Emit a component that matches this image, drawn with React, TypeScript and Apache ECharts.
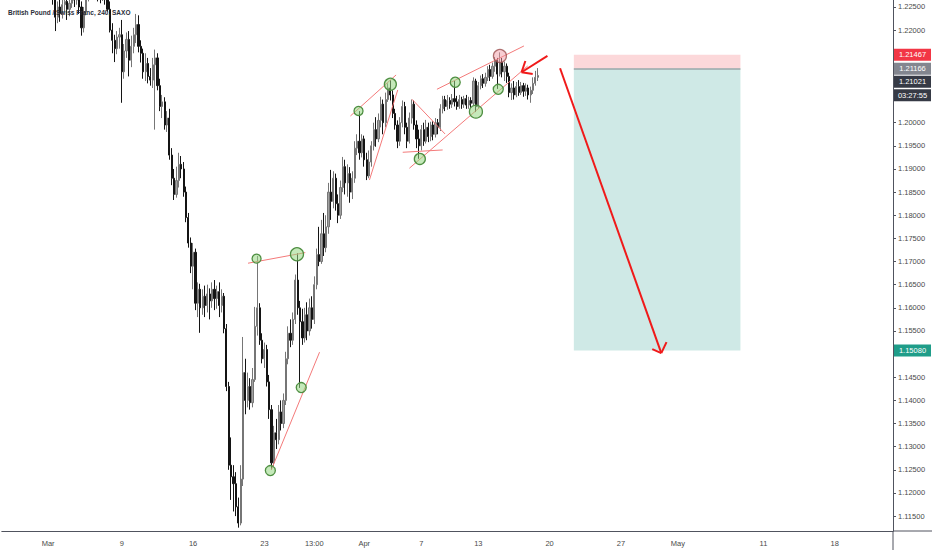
import { useEffect, useRef } from "react";
import * as echarts from "echarts";

const TITLE = "British Pound / Swiss Franc, 240, SAXO";
const TOTAL_BARS = 375;
const TICK_INDEX = [19, 50, 80, 110, 131, 152, 176, 200, 230, 260, 284, 320, 350];
const TICK_TEXT = ["Mar", "9", "16", "23", "13:00", "Apr", "7", "13", "20", "27", "May", "11", "18"];
const PRICE_TICKS = [
  1.115, 1.12, 1.125, 1.13, 1.135, 1.14, 1.145, 1.15, 1.155, 1.16, 1.165, 1.17,
  1.175, 1.18, 1.185, 1.19, 1.195, 1.2, 1.205, 1.21, 1.215, 1.22, 1.225,
];
// tick labels left uncovered by the price tags
const PRICE_LABELS = [
  1.115, 1.12, 1.125, 1.13, 1.135, 1.14, 1.145, 1.155, 1.16, 1.165, 1.17,
  1.175, 1.18, 1.185, 1.19, 1.195, 1.2, 1.22, 1.225,
];
const Y_MIN = 1.11178;
const Y_MAX = 1.22651;

// [open, close, low, high] per 4h bar
const OHLC: number[][] = [
  [1.2300, 1.2315, 1.2290, 1.2322], [1.2315, 1.2308, 1.2296, 1.2326], [1.2308, 1.2322, 1.2301, 1.2335],
  [1.2322, 1.2312, 1.2298, 1.2330], [1.2312, 1.2296, 1.2285, 1.2318], [1.2296, 1.2305, 1.2288, 1.2314],
  [1.2305, 1.2290, 1.2280, 1.2311], [1.2290, 1.2302, 1.2284, 1.2309], [1.2302, 1.2318, 1.2295, 1.2327],
  [1.2318, 1.2309, 1.2300, 1.2324], [1.2309, 1.2295, 1.2287, 1.2315], [1.2295, 1.2288, 1.2279, 1.2301],
  [1.2288, 1.2300, 1.2281, 1.2306], [1.2300, 1.2312, 1.2294, 1.2320], [1.2312, 1.2298, 1.2290, 1.2318],
  [1.2298, 1.2291, 1.2283, 1.2305], [1.2291, 1.2302, 1.2285, 1.2310], [1.2302, 1.2296, 1.2287, 1.2308],
  [1.2296, 1.2288, 1.2280, 1.2301], [1.2288, 1.2294, 1.2278, 1.2299], [1.2294, 1.2283, 1.2274, 1.2298],
  [1.2283, 1.2270, 1.2255, 1.2292], [1.2270, 1.2228, 1.2198, 1.2276], [1.2228, 1.2250, 1.2215, 1.2262],
  [1.2250, 1.2236, 1.2218, 1.2268], [1.2236, 1.2255, 1.2225, 1.2272], [1.2255, 1.2262, 1.2238, 1.2280],
  [1.2262, 1.2245, 1.2222, 1.2275], [1.2245, 1.2258, 1.2230, 1.2270], [1.2258, 1.2272, 1.2248, 1.2285],
  [1.2272, 1.2265, 1.2250, 1.2290], [1.2265, 1.2278, 1.2255, 1.2288], [1.2278, 1.2250, 1.2235, 1.2284],
  [1.2250, 1.2205, 1.2188, 1.2262], [1.2205, 1.2240, 1.2195, 1.2250], [1.2240, 1.2268, 1.2232, 1.2280],
  [1.2268, 1.2285, 1.2262, 1.2296], [1.2285, 1.2298, 1.2274, 1.2310], [1.2298, 1.2290, 1.2278, 1.2312],
  [1.2290, 1.2282, 1.2270, 1.2300], [1.2282, 1.2276, 1.2262, 1.2292], [1.2276, 1.2270, 1.2258, 1.2288],
  [1.2270, 1.2279, 1.2263, 1.2290], [1.2279, 1.2266, 1.2255, 1.2286], [1.2266, 1.2245, 1.2240, 1.2275],
  [1.2245, 1.2200, 1.2195, 1.2262], [1.2200, 1.2178, 1.2150, 1.2215], [1.2178, 1.2160, 1.2131, 1.2190],
  [1.2160, 1.2185, 1.2148, 1.2198], [1.2185, 1.2190, 1.2160, 1.2205], [1.2190, 1.2110, 1.2043, 1.2222],
  [1.2110, 1.2155, 1.2095, 1.2170], [1.2155, 1.2180, 1.2140, 1.2195], [1.2180, 1.2135, 1.2100, 1.2198],
  [1.2135, 1.2165, 1.2120, 1.2188], [1.2165, 1.2190, 1.2150, 1.2205], [1.2190, 1.2212, 1.2172, 1.2235],
  [1.2212, 1.2165, 1.2152, 1.2232], [1.2165, 1.2150, 1.2130, 1.2178], [1.2150, 1.2110, 1.2095, 1.2160],
  [1.2110, 1.2128, 1.2090, 1.2150], [1.2128, 1.2100, 1.2085, 1.2140], [1.2100, 1.2092, 1.2080, 1.2118],
  [1.2092, 1.2125, 1.2075, 1.2140], [1.2125, 1.2140, 1.1985, 1.2158], [1.2140, 1.2080, 1.2070, 1.2150],
  [1.2080, 1.2035, 1.2025, 1.2095], [1.2035, 1.2045, 1.2010, 1.2060], [1.2045, 1.1995, 1.1985, 1.2055],
  [1.1995, 1.2010, 1.1980, 1.2025], [1.2010, 1.1930, 1.1920, 1.2030], [1.1930, 1.1880, 1.1865, 1.1945],
  [1.1880, 1.1845, 1.1833, 1.1900], [1.1845, 1.1875, 1.1838, 1.1905], [1.1875, 1.1910, 1.1860, 1.1935],
  [1.1910, 1.1900, 1.1880, 1.1928], [1.1900, 1.1850, 1.1840, 1.1915], [1.1850, 1.1795, 1.1785, 1.1862],
  [1.1795, 1.1740, 1.1730, 1.1805], [1.1740, 1.1690, 1.1675, 1.1752], [1.1690, 1.1720, 1.1640, 1.1740],
  [1.1720, 1.1610, 1.1595, 1.1728], [1.1610, 1.1640, 1.1580, 1.1655], [1.1640, 1.1600, 1.1546, 1.1652],
  [1.1600, 1.1625, 1.1585, 1.1640], [1.1625, 1.1605, 1.1580, 1.1648], [1.1605, 1.1630, 1.1590, 1.1650],
  [1.1630, 1.1615, 1.1575, 1.1642], [1.1615, 1.1640, 1.1600, 1.1655], [1.1640, 1.1620, 1.1595, 1.1660],
  [1.1620, 1.1635, 1.1598, 1.1648], [1.1635, 1.1605, 1.1580, 1.1655], [1.1605, 1.1625, 1.1590, 1.1640],
  [1.1625, 1.1555, 1.1545, 1.1632], [1.1555, 1.1430, 1.1420, 1.1565], [1.1430, 1.1260, 1.1250, 1.1440],
  [1.1260, 1.1235, 1.1185, 1.1320], [1.1235, 1.1220, 1.1160, 1.1260], [1.1220, 1.1170, 1.1150, 1.1245],
  [1.1170, 1.1135, 1.1125, 1.1190], [1.1135, 1.1230, 1.1130, 1.1260], [1.1230, 1.1460, 1.1215, 1.1537],
  [1.1460, 1.1400, 1.1370, 1.1490], [1.1400, 1.1430, 1.1385, 1.1460], [1.1430, 1.1395, 1.1380, 1.1448],
  [1.1395, 1.1445, 1.1385, 1.1470], [1.1445, 1.1560, 1.1440, 1.1602], [1.1560, 1.1600, 1.1540, 1.1712],
  [1.1600, 1.1530, 1.1520, 1.1610], [1.1530, 1.1490, 1.1480, 1.1545], [1.1490, 1.1510, 1.1470, 1.1525],
  [1.1510, 1.1440, 1.1430, 1.1520], [1.1440, 1.1380, 1.1360, 1.1455], [1.1380, 1.1265, 1.1250, 1.1390],
  [1.1265, 1.1330, 1.1258, 1.1345], [1.1330, 1.1315, 1.1295, 1.1360], [1.1315, 1.1375, 1.1305, 1.1390],
  [1.1375, 1.1350, 1.1335, 1.1400], [1.1350, 1.1400, 1.1340, 1.1415], [1.1400, 1.1490, 1.1390, 1.1505],
  [1.1490, 1.1545, 1.1478, 1.1560], [1.1545, 1.1530, 1.1515, 1.1575], [1.1530, 1.1575, 1.1520, 1.1590],
  [1.1575, 1.1660, 1.1565, 1.1672], [1.1660, 1.1600, 1.1585, 1.1718], [1.1600, 1.1570, 1.1427, 1.1615],
  [1.1570, 1.1535, 1.1520, 1.1598], [1.1535, 1.1585, 1.1525, 1.1600], [1.1585, 1.1550, 1.1530, 1.1612],
  [1.1550, 1.1600, 1.1540, 1.1620], [1.1600, 1.1575, 1.1555, 1.1625], [1.1575, 1.1650, 1.1565, 1.1668],
  [1.1650, 1.1715, 1.1640, 1.1728], [1.1715, 1.1700, 1.1690, 1.1775], [1.1700, 1.1760, 1.1695, 1.1790],
  [1.1760, 1.1730, 1.1712, 1.1805], [1.1730, 1.1775, 1.1720, 1.1800], [1.1775, 1.1850, 1.1760, 1.1870],
  [1.1850, 1.1830, 1.1790, 1.1898], [1.1830, 1.1880, 1.1815, 1.1895], [1.1880, 1.1825, 1.1810, 1.1890],
  [1.1825, 1.1800, 1.1783, 1.1845], [1.1800, 1.1860, 1.1792, 1.1875], [1.1860, 1.1905, 1.1850, 1.1926],
  [1.1905, 1.1870, 1.1845, 1.1920], [1.1870, 1.1890, 1.1840, 1.1910], [1.1890, 1.1850, 1.1827, 1.1904],
  [1.1850, 1.1880, 1.1835, 1.1895], [1.1880, 1.1945, 1.1870, 1.1960], [1.1945, 1.1960, 1.1930, 1.1975],
  [1.1960, 1.1935, 1.1920, 1.2025], [1.1935, 1.1965, 1.1925, 1.1975], [1.1965, 1.1920, 1.1905, 1.1972],
  [1.1920, 1.1885, 1.1876, 1.1935], [1.1885, 1.1915, 1.1880, 1.1940], [1.1915, 1.1950, 1.1905, 1.1960],
  [1.1950, 1.1985, 1.1940, 1.2000], [1.1985, 1.1965, 1.1948, 1.2012], [1.1965, 1.2005, 1.1958, 1.2020],
  [1.2005, 1.2040, 1.1990, 1.2056], [1.2040, 1.2000, 1.1975, 1.2050], [1.2000, 1.2050, 1.1990, 1.2065],
  [1.2050, 1.2075, 1.2045, 1.2085], [1.2075, 1.2060, 1.2048, 1.2092], [1.2060, 1.2020, 1.2010, 1.2070],
  [1.2020, 1.1995, 1.1985, 1.2030], [1.1995, 1.1960, 1.1945, 1.2005], [1.1960, 1.2000, 1.1950, 1.2012],
  [1.2000, 1.2035, 1.1990, 1.2048], [1.2035, 1.1990, 1.1975, 1.2045], [1.1990, 1.1960, 1.1945, 1.2000],
  [1.1960, 1.2010, 1.1955, 1.2022], [1.2010, 1.2040, 1.1998, 1.2050], [1.2040, 1.1995, 1.1985, 1.2048],
  [1.1995, 1.1965, 1.1945, 1.2005], [1.1965, 1.1950, 1.1922, 1.1985], [1.1950, 1.1985, 1.1940, 1.1995],
  [1.1985, 1.1960, 1.1950, 1.2000], [1.1960, 1.1990, 1.1955, 1.2006], [1.1990, 1.1970, 1.1958, 1.2000],
  [1.1970, 1.1995, 1.1960, 1.2002], [1.1995, 1.1975, 1.1962, 1.2003], [1.1975, 1.2000, 1.1968, 1.2010],
  [1.2000, 1.1990, 1.1975, 1.2008], [1.1990, 1.2030, 1.1982, 1.2040], [1.2030, 1.2050, 1.2020, 1.2058],
  [1.2050, 1.2035, 1.2025, 1.2058], [1.2035, 1.2048, 1.2028, 1.2060], [1.2048, 1.2040, 1.2030, 1.2055],
  [1.2040, 1.2052, 1.2032, 1.2062], [1.2052, 1.2045, 1.2035, 1.2090], [1.2045, 1.2035, 1.2028, 1.2058],
  [1.2035, 1.2050, 1.2030, 1.2060], [1.2050, 1.2040, 1.2030, 1.2056], [1.2040, 1.2052, 1.2032, 1.2058],
  [1.2052, 1.2038, 1.2030, 1.2060], [1.2038, 1.2048, 1.2030, 1.2056], [1.2048, 1.2042, 1.2032, 1.2055],
  [1.2042, 1.2090, 1.2038, 1.2098], [1.2090, 1.2035, 1.2023, 1.2095], [1.2035, 1.2080, 1.2030, 1.2088],
  [1.2080, 1.2095, 1.2072, 1.2102], [1.2095, 1.2085, 1.2075, 1.2105], [1.2085, 1.2098, 1.2078, 1.2108],
  [1.2098, 1.2115, 1.2090, 1.2122], [1.2115, 1.2100, 1.2090, 1.2125], [1.2100, 1.2122, 1.2095, 1.2130],
  [1.2122, 1.2135, 1.2110, 1.2142], [1.2135, 1.2105, 1.2073, 1.2140], [1.2105, 1.2130, 1.2100, 1.2152],
  [1.2130, 1.2110, 1.2098, 1.2140], [1.2110, 1.2122, 1.2090, 1.2132], [1.2122, 1.2100, 1.2086, 1.2128],
  [1.2100, 1.2065, 1.2055, 1.2108], [1.2065, 1.2075, 1.2049, 1.2085], [1.2075, 1.2060, 1.2050, 1.2090],
  [1.2060, 1.2078, 1.2055, 1.2088], [1.2078, 1.2065, 1.2058, 1.2092], [1.2065, 1.2080, 1.2060, 1.2088],
  [1.2080, 1.2068, 1.2056, 1.2086], [1.2068, 1.2075, 1.2058, 1.2085], [1.2075, 1.2060, 1.2050, 1.2082],
  [1.2060, 1.2070, 1.2043, 1.2078], [1.2070, 1.2085, 1.2062, 1.2098], [1.2085, 1.2098, 1.2080, 1.2112],
  [1.2098, 1.2102, 1.2090, 1.2118],
];

// position tool
const STOP = 1.21467;
const ENTRY = 1.21166;
const TARGET = 1.1508;
const LAST = 1.21021;
const COUNTDOWN = "03:27:55";
const ZONE_START = 240.2;
const ZONE_END = 310.3;

// drawings in [bar index, price]
const TREND_LINES: number[][][] = [
  [[103.1, 1.16964], [127.2, 1.17193]],
  [[112.9, 1.12499], [133.2, 1.15042]],
  [[146.2, 1.20146], [165.4, 1.21031]],
  [[154.2, 1.18763], [166.1, 1.20707]],
  [[172.1, 1.20506], [186.0, 1.19757]],
  [[168.2, 1.19361], [185.0, 1.19411]],
  [[171.0, 1.19016], [220.8, 1.21226]],
  [[182.6, 1.20722], [219.2, 1.21658]],
];
const ARROW_SHAFTS: number[][][] = [
  [[234.4, 1.21176], [277.0, 1.1502]],
  [[229.1, 1.21442], [218.2, 1.2109]],
];
const ARROW_WINGS: number[][][] = [
  [[277.0, 1.1502], [273.2, 1.15106]],
  [[277.0, 1.1502], [279.2, 1.15258]],
  [[218.2, 1.2109], [219.8, 1.21334]],
  [[218.2, 1.2109], [222.9, 1.21053]],
];
const GREEN_CIRCLES: number[][] = [
  [106.7, 1.17063], [123.7, 1.17158], [112.5, 1.12484], [125.5, 1.14277],
  [149.6, 1.20254], [163.0, 1.2083], [175.4, 1.19217], [199.0, 1.20239],
  [190.3, 1.20874], [208.4, 1.20722],
];
const GREEN_SIZES = [9, 13, 10, 10, 9, 12, 11, 13, 10, 10];
const RED_CIRCLES: number[][] = [[209.1, 1.21442]];
const RED_SIZES = [13];

const FONT = "'Liberation Sans', Arial, sans-serif";
const AXIS_COLOR = "#50535e";

export default function App() {
  const ref = useRef<HTMLDivElement>(null);

  useEffect(() => {
    if (!ref.current) return;
    const chart = echarts.init(ref.current, undefined, { renderer: "svg" });

    const categories = Array.from({ length: TOTAL_BARS }, (_, i) => {
      const k = TICK_INDEX.indexOf(i);
      return k >= 0 ? TICK_TEXT[k] : "";
    });

    const thin = { color: "#f47a7a", width: 1 };
    const arrow = { color: "#f01a1a", width: 2 };
    const seg = (pair: number[][], style: any) => [
      { coord: pair[0], lineStyle: style },
      { coord: pair[1] },
    ];

    chart.setOption({
      animation: false,
      textStyle: { fontFamily: FONT },
      title: {
        text: TITLE,
        left: 3,
        top: 4,
        textStyle: { fontSize: 6.5, fontWeight: "bold", color: "#2a2e39", fontFamily: FONT },
      },
      grid: { left: 0, right: 39, top: 0, bottom: 19 },
      xAxis: [
        {
          type: "category",
          data: categories,
          boundaryGap: true,
          axisLine: { show: true, onZero: false, lineStyle: { color: AXIS_COLOR, width: 1 } },
          axisTick: { show: false },
          axisLabel: { interval: 0, fontSize: 7.5, color: "#4a4a4a", margin: 8, fontFamily: FONT },
          splitLine: { show: false },
        },
        {
          type: "value",
          min: -0.5,
          max: TOTAL_BARS - 0.5,
          show: false,
          axisLine: { onZero: false },
        },
      ],
      yAxis: {
        type: "value",
        position: "right",
        min: Y_MIN,
        max: Y_MAX,
        axisLine: { show: true, onZero: false, lineStyle: { color: AXIS_COLOR, width: 1 } },
        axisTick: {
          show: true,
          length: 3,
          customValues: PRICE_TICKS,
          lineStyle: { color: AXIS_COLOR },
        },
        axisLabel: {
          customValues: PRICE_LABELS,
          formatter: (v: number) => v.toFixed(5),
          fontSize: 7.5,
          color: "#4a4a4a",
          margin: 5,
          fontFamily: FONT,
        },
        splitLine: { show: false },
      },
      series: [
        {
          name: "GBPCHF",
          type: "candlestick",
          xAxisIndex: 0,
          yAxisIndex: 0,
          data: OHLC,
          barWidth: "70%",
          clip: true,
          itemStyle: {
            color: "#a2a2a2",
            color0: "#141414",
            borderColor: "#767676",
            borderColor0: "#141414",
            borderWidth: 1,
          },
          z: 3,
        },
        {
          name: "drawings",
          type: "scatter",
          xAxisIndex: 1,
          yAxisIndex: 0,
          symbol: "circle",
          data: GREEN_CIRCLES.map((p, i) => ({ value: p, symbolSize: GREEN_SIZES[i] })),
          itemStyle: {
            color: "rgba(150,215,130,0.55)",
            borderColor: "#4f8f42",
            borderWidth: 1.3,
            opacity: 1,
          },
          z: 6,
          silent: true,
          markArea: {
            silent: true,
            data: [
              [
                { coord: [ZONE_START, STOP], itemStyle: { color: "#fcd8da" } },
                { coord: [ZONE_END, ENTRY] },
              ],
              [
                { coord: [ZONE_START, ENTRY], itemStyle: { color: "#cfe9e6" } },
                { coord: [ZONE_END, TARGET] },
              ],
            ],
          },
          markLine: {
            silent: true,
            symbol: ["none", "none"],
            label: { show: false },
            data: [
              seg([[ZONE_START, ENTRY], [ZONE_END, ENTRY]], { color: "#9aa6a8", width: 1.5, type: "solid" }),
              ...TREND_LINES.map((p) => seg(p, { ...thin, type: "solid" })),
              ...ARROW_SHAFTS.map((p) => seg(p, { ...arrow, type: "solid" })),
              ...ARROW_WINGS.map((p) => seg(p, { ...arrow, type: "solid" })),
            ],
          },
        },
        {
          name: "stop circle",
          type: "scatter",
          xAxisIndex: 1,
          yAxisIndex: 0,
          symbol: "circle",
          silent: true,
          data: RED_CIRCLES.map((p, i) => ({ value: p, symbolSize: RED_SIZES[i] })),
          itemStyle: {
            color: "rgba(240,150,160,0.6)",
            borderColor: "#9b4f4f",
            borderWidth: 1.3,
          },
          z: 6,
        },
      ],
    });

    const yOf = (v: number) => chart.convertToPixel({ yAxisIndex: 0 }, v) as number;
    const xEnd = chart.convertToPixel({ xAxisIndex: 1 }, TOTAL_BARS - 0.5) as number;
    const yBottom = yOf(Y_MIN);
    const W = chart.getWidth();
    const H = chart.getHeight();
    const boxW = 37;
    const boxH = 12;
    const entryY = yOf(ENTRY);
    const lastY = Math.max(yOf(LAST), entryY + 13);
    const tags = [
      { y: yOf(STOP), text: STOP.toFixed(5), fill: "#f23645" },
      { y: entryY, text: ENTRY.toFixed(5), fill: "#83868f" },
      { y: lastY, text: LAST.toFixed(5), fill: "#363a45" },
      { y: lastY + 13.5, text: COUNTDOWN, fill: "#363a45" },
      { y: yOf(TARGET), text: TARGET.toFixed(5), fill: "#1f9d89" },
    ];

    chart.setOption({
      graphic: [
        {
          type: "line",
          z: 100,
          silent: true,
          shape: { x1: xEnd, y1: yBottom, x2: W, y2: yBottom },
          style: { stroke: AXIS_COLOR, lineWidth: 1 },
        },
        {
          type: "line",
          z: 100,
          silent: true,
          shape: { x1: xEnd, y1: yBottom, x2: xEnd, y2: H },
          style: { stroke: AXIS_COLOR, lineWidth: 1 },
        },
        ...tags.flatMap((t) => [
          {
            type: "rect",
            z: 100,
            silent: true,
            shape: { x: xEnd + 1, y: t.y - boxH / 2, width: boxW, height: boxH },
            style: { fill: t.fill },
          },
          {
            type: "text",
            z: 101,
            silent: true,
            x: xEnd + 1 + boxW / 2,
            y: t.y,
            style: {
              text: t.text,
              fill: "#ffffff",
              fontSize: 7.5,
              fontFamily: FONT,
              align: "center",
              verticalAlign: "middle",
            },
          },
        ]),
      ],
    });

    return () => chart.dispose();
  }, []);

  return (
    <div
      ref={ref}
      style={{ position: "fixed", left: 0, top: 0, width: 932, height: 550, background: "#ffffff" }}
    />
  );
}
